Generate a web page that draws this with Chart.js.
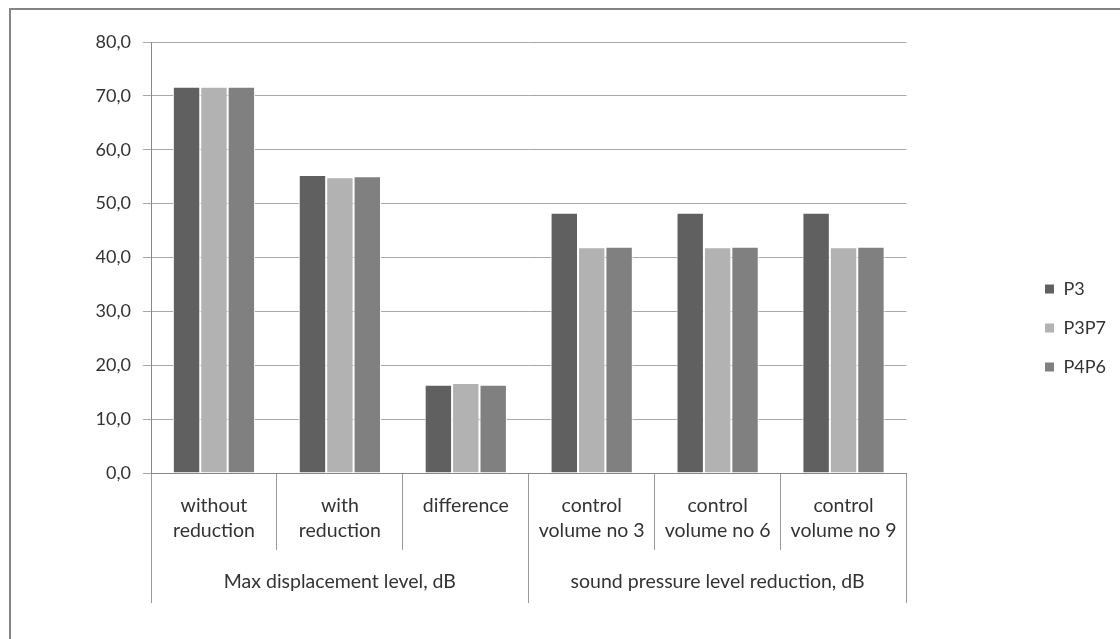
<!DOCTYPE html>
<html>
<head>
<meta charset="utf-8">
<script src="https://cdn.jsdelivr.net/npm/chart.js@4/dist/chart.umd.min.js"></script>
<style>
  html, body { margin: 0; padding: 0; background: #fff; overflow: hidden; }
  #wrap { position: relative; width: 1120px; height: 639px; }
  #frame { position: absolute; left: 9px; top: 8px; width: 1200px; height: 700px; border: 2px solid #858585; }
  #chart { position: absolute; left: 0; top: 0; }
</style>
</head>
<body>
<div id="wrap">
  <div id="frame"></div>
  <canvas id="chart" width="1120" height="639"></canvas>
</div>
<script>
// Categories and groups
const categories = [
    ['without', 'reduction'],
    ['with', 'reduction'],
    'difference',
    ['control', 'volume no 3'],
    ['control', 'volume no 6'],
    ['control', 'volume no 9']
];
const groups = ['Max displacement level, dB', 'sound pressure level reduction, dB'];

// Series values
const seriesNames = ['P3', 'P3P7', 'P4P6'];
const p3 = [71.7, 55.3, 16.4, 48.3, 48.3, 48.3];
const p3p7 = [71.7, 54.9, 16.7, 41.9, 41.9, 41.9];
const p4p6 = [71.7, 55.1, 16.4, 42.0, 42.0, 42.0];
const colors = ['#606060', '#b2b2b2', '#808080'];

// Y axis ticks
const yMin = 0, yMax = 80, yStep = 10;

document.addEventListener("DOMContentLoaded", function() {
    const fontOpts = { family: "Lato, 'Open Sans', sans-serif", size: 18 };
    const catFont = { family: "Lato, 'Open Sans', sans-serif", size: 19.5, lineHeight: 25 / 19.5 };
    const textColor = '#333333';

    const datasets = [p3, p3p7, p4p6].map(function(values, i) {
        return {
            label: seriesNames[i],
            data: values,
            backgroundColor: colors[i],
            borderColor: '#ffffff',
            borderWidth: 1,
            barPercentage: 1,
            categoryPercentage: 0.653
        };
    });

    new Chart(document.getElementById('chart').getContext('2d'), {
        type: 'bar',
        data: { labels: categories, datasets: datasets },
        options: {
            responsive: false,
            animation: false,
            layout: { padding: { top: 42, bottom: 25, left: 0, right: 4 } },
            plugins: {
                tooltip: { enabled: false },
                legend: {
                    position: 'right',
                    labels: { font: fontOpts, color: textColor, boxWidth: 10, boxHeight: 10, padding: 21 }
                }
            },
            scales: {
                x: {
                    weight: 0,
                    offset: true,
                    grid: { offset: true, drawOnChartArea: false, tickLength: 77, color: '#999999' },
                    border: { color: '#888888' },
                    ticks: { font: catFont, color: textColor, padding: -57, maxRotation: 0, autoSkip: false },
                    afterFit: function(s) { s.height = 75; }
                },
                x2: {
                    type: 'category',
                    position: 'bottom',
                    weight: 1,
                    labels: groups,
                    offset: true,
                    grid: { offset: true, drawOnChartArea: false, tickLength: 55, color: '#999999' },
                    border: { display: false },
                    ticks: { font: catFont, color: textColor, padding: -34, maxRotation: 0, autoSkip: false },
                    afterFit: function(s) { s.height = 66; }
                },
                y: {
                    min: yMin, max: yMax,
                    grid: { color: '#a8a8a8', tickLength: 8 },
                    border: { color: '#888888' },
                    ticks: {
                        stepSize: yStep, font: fontOpts, color: textColor, padding: 12,
                        callback: function(v) { return v.toFixed(1).replace('.', ','); }
                    },
                    afterFit: function(s) { s.width = 151; }
                },
                spacer: {
                    type: 'linear',
                    position: 'right',
                    grid: { display: false },
                    border: { display: false },
                    ticks: { display: false },
                    afterFit: function(s) { s.width = 117; }
                }
            }
        }
    });
});
</script>
</body>
</html>
